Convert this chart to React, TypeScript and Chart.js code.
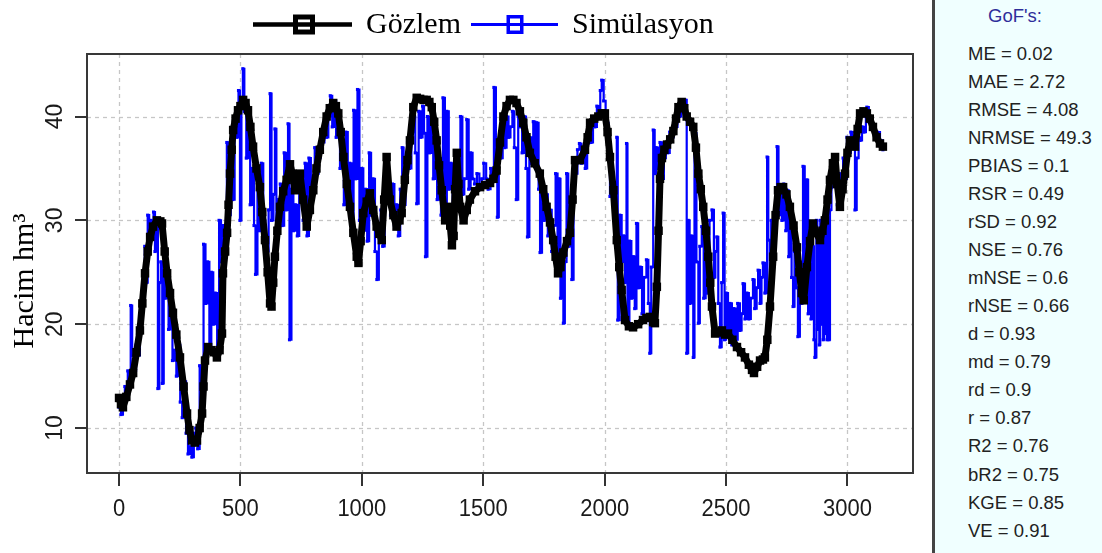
import React, { useEffect, useRef } from "react";
import { Chart, registerables } from "chart.js";
Chart.register(...registerables);

// ---------- data ----------
const OBS_DAYS = [
  0, 8, 16, 30, 45, 58, 72, 86, 96, 107,
  118, 128, 140, 156, 170, 177, 188, 198, 210, 222,
  236, 251, 266, 280, 290, 300, 312, 321, 332, 342,
  348, 354, 367, 380, 392, 403, 414, 424, 428, 437,
  445, 451, 457, 464, 470, 480, 490, 500, 511, 521,
  531, 541, 552, 566, 580, 590, 601, 612, 622, 628,
  635, 642, 652, 663, 676, 690, 704, 714, 725, 735,
  745, 758, 773, 786, 800, 813, 827, 841, 855, 868,
  882, 893, 903, 913, 924, 938, 951, 965, 979, 986,
  995, 1006, 1020, 1033, 1047, 1061, 1072, 1082, 1092, 1102,
  1115, 1130, 1143, 1155, 1164, 1177, 1188, 1198, 1212, 1226,
  1240, 1254, 1267, 1278, 1288, 1298, 1308, 1318, 1329, 1343,
  1356, 1364, 1371, 1378, 1384, 1391, 1398, 1405, 1419, 1432,
  1445, 1466, 1487, 1508, 1528, 1542, 1555, 1569, 1583, 1596,
  1610, 1624, 1637, 1651, 1665, 1678, 1692, 1712, 1733, 1747,
  1761, 1775, 1788, 1798, 1808, 1818, 1830, 1845, 1857, 1868,
  1878, 1898, 1919, 1930, 1940, 1957, 1974, 1988, 2001, 2012,
  2022, 2036, 2050, 2060, 2070, 2084, 2100, 2117, 2138, 2158,
  2172, 2186, 2200, 2207, 2215, 2222, 2228, 2236, 2246, 2257,
  2270, 2283, 2294, 2304, 2317, 2328, 2338, 2352, 2365, 2376,
  2386, 2396, 2406, 2417, 2427, 2435, 2442, 2455, 2470, 2483,
  2496, 2508, 2526, 2545, 2562, 2578, 2594, 2607, 2615, 2628,
  2640, 2652, 2660, 2670, 2681, 2694, 2704, 2714, 2725, 2735,
  2749, 2763, 2778, 2792, 2802, 2812, 2820, 2833, 2846, 2858,
  2872, 2887, 2897, 2907, 2918, 2928, 2940, 2949, 2958, 2969,
  2980, 2990, 3000, 3010, 3020, 3031, 3042, 3052, 3066, 3080,
  3092, 3105, 3120, 3134, 3146,
];
const OBS_VALUES = [
  12.9, 12.3, 12.0, 13.0, 14.2, 15.3, 17.3, 19.4, 22.0, 24.9,
  27.0, 28.4, 29.4, 30.0, 29.9, 29.7, 27.0, 24.9, 23.0, 21.1,
  19.0, 16.8, 14.0, 11.4, 9.8, 8.8, 8.6, 8.8, 10.0, 11.4,
  14.0, 16.5, 17.8, 17.5, 17.3, 16.8, 17.5, 19.1, 24.9, 27.0,
  28.8, 31.5, 34.5, 36.8, 38.7, 39.8, 40.6, 41.0, 41.6, 41.3,
  40.6, 39.0, 37.1, 35.0, 33.2, 30.8, 28.1, 25.0, 22.0, 21.7,
  24.0, 26.5, 29.0, 31.3, 32.8, 33.9, 35.4, 34.5, 32.9, 33.8,
  34.5, 32.0, 29.4, 31.0, 32.9, 35.0, 36.8, 38.5, 40.0, 40.8,
  41.3, 41.0, 40.3, 38.5, 36.1, 33.5, 31.3, 28.8, 26.5, 25.9,
  28.0, 30.7, 31.8, 32.6, 31.0, 29.4, 28.7, 28.1, 32.0, 36.1,
  32.0, 30.5, 29.4, 30.0, 30.7, 33.9, 35.8, 37.7, 40.9, 41.8,
  41.7, 41.6, 41.6, 41.4, 40.9, 39.5, 37.7, 35.3, 32.9, 30.0,
  31.3, 29.5, 27.6, 28.5, 33.0, 36.5, 33.5, 31.3, 30.0, 31.0,
  32.0, 32.8, 33.2, 33.4, 33.6, 34.0, 34.8, 37.5, 40.0, 41.0,
  41.6, 41.6, 41.3, 40.5, 39.4, 38.0, 36.5, 35.5, 34.5, 33.0,
  31.3, 29.8, 28.1, 26.5, 24.9, 25.5, 26.9, 28.0, 28.8, 32.0,
  35.8, 35.8, 36.8, 38.0, 39.4, 39.8, 40.0, 40.3, 40.3, 38.5,
  36.1, 32.9, 28.1, 25.5, 23.3, 20.4, 19.8, 19.7, 20.0, 20.4,
  20.6, 20.7, 20.2, 20.1, 23.6, 29.0, 34.0, 36.0, 36.8, 37.3,
  37.8, 38.6, 39.8, 40.9, 41.4, 40.8, 40.0, 39.5, 39.0, 37.0,
  34.5, 33.0, 31.3, 29.0, 26.5, 24.0, 21.7, 19.1, 19.2, 19.4,
  19.0, 19.1, 18.5, 17.8, 17.3, 16.8, 16.1, 15.6, 15.3, 15.9,
  16.5, 16.6, 16.8, 18.5, 21.7, 26.5, 30.5, 32.9, 33.2, 33.2,
  32.5, 31.3, 29.5, 27.4, 25.0, 23.0, 22.3, 25.5, 28.0, 29.7,
  28.8, 28.1, 29.0, 30.0, 32.0, 33.9, 35.5, 36.1, 33.5, 31.3,
  33.0, 34.5, 36.5, 37.7, 37.5, 37.1, 38.8, 40.3, 40.5, 40.3,
  39.8, 39.0, 38.0, 37.4, 37.1,
];

const SIM_DAYS = [
  0, 8, 16, 24, 30, 36, 42, 48, 54, 62,
  70, 78, 86, 94, 100, 106, 112, 118, 124, 130,
  136, 142, 148, 154, 160, 166, 172, 178, 184, 190,
  196, 204, 212, 220, 228, 236, 244, 252, 260, 268,
  276, 284, 292, 300, 308, 316, 324, 332, 340, 348,
  356, 364, 372, 380, 388, 396, 404, 412, 420, 428,
  436, 444, 452, 460, 468, 476, 484, 492, 498, 504,
  510, 516, 524, 532, 540, 548, 556, 562, 570, 578,
  586, 594, 602, 610, 616, 622, 628, 636, 642, 648,
  656, 664, 672, 680, 688, 696, 702, 710, 718, 726,
  734, 742, 750, 758, 766, 774, 782, 790, 798, 806,
  814, 822, 830, 838, 846, 854, 862, 870, 878, 886,
  894, 902, 910, 918, 926, 934, 942, 950, 958, 966,
  974, 982, 990, 998, 1006, 1014, 1022, 1030, 1038, 1046,
  1054, 1062, 1070, 1078, 1086, 1094, 1102, 1110, 1118, 1126,
  1134, 1142, 1150, 1158, 1166, 1172, 1180, 1188, 1196, 1204,
  1212, 1220, 1226, 1234, 1242, 1250, 1256, 1262, 1270, 1278,
  1286, 1294, 1302, 1310, 1318, 1326, 1334, 1342, 1350, 1358,
  1366, 1374, 1382, 1390, 1398, 1406, 1414, 1422, 1432, 1440,
  1448, 1456, 1464, 1474, 1484, 1494, 1502, 1512, 1520, 1530,
  1538, 1544, 1552, 1558, 1564, 1572, 1580, 1588, 1596, 1604,
  1612, 1620, 1628, 1636, 1644, 1652, 1660, 1668, 1676, 1682,
  1690, 1698, 1706, 1714, 1720, 1728, 1734, 1742, 1750, 1758,
  1766, 1774, 1782, 1790, 1798, 1806, 1812, 1818, 1824, 1830,
  1836, 1843, 1850, 1858, 1865, 1872, 1880, 1888, 1896, 1904,
  1912, 1920, 1928, 1936, 1944, 1952, 1960, 1968, 1976, 1982,
  1988, 1996, 2004, 2010, 2016, 2022, 2030, 2038, 2044, 2050,
  2054, 2062, 2070, 2078, 2084, 2090, 2094, 2102, 2110, 2118,
  2124, 2131, 2138, 2146, 2154, 2162, 2172, 2180, 2186, 2192,
  2200, 2206, 2212, 2220, 2228, 2236, 2244, 2252, 2260, 2268,
  2276, 2284, 2292, 2300, 2308, 2316, 2324, 2330, 2338, 2344,
  2350, 2356, 2365, 2370, 2378, 2386, 2392, 2400, 2408, 2416,
  2424, 2432, 2442, 2450, 2456, 2462, 2468, 2475, 2482, 2488,
  2494, 2500, 2508, 2516, 2524, 2532, 2540, 2548, 2557, 2564,
  2570, 2578, 2586, 2594, 2602, 2611, 2618, 2626, 2632, 2640,
  2646, 2652, 2660, 2669, 2674, 2680, 2686, 2694, 2702, 2710,
  2716, 2722, 2730, 2738, 2746, 2751, 2758, 2764, 2770, 2776,
  2782, 2790, 2796, 2804, 2810, 2817, 2824, 2833, 2838, 2844,
  2850, 2856, 2862, 2866, 2872, 2876, 2880, 2884, 2888, 2892,
  2896, 2900, 2904, 2907, 2912, 2916, 2920, 2924, 2928, 2934,
  2942, 2950, 2958, 2966, 2974, 2982, 2990, 2998, 3006, 3014,
  3022, 3031, 3038, 3046, 3052, 3060, 3068, 3076, 3080, 3088,
  3096, 3105, 3114, 3122, 3134, 3146,
];
const SIM_VALUES = [
  12.0, 11.3, 12.5, 14.0, 13.0, 15.5, 13.8, 21.8, 17.0, 15.5,
  18.0, 17.0, 19.5, 22.0, 24.5, 27.5, 24.0, 30.5, 28.0, 30.0,
  29.0, 30.8, 27.0, 29.5, 13.8, 24.0, 26.0, 14.3, 24.5, 22.5,
  23.0, 19.5, 22.0, 16.5, 17.5, 15.0, 18.0, 12.5, 11.0, 14.5,
  9.5, 7.5, 8.2, 7.2, 9.5, 10.0, 8.0, 16.0, 13.5, 27.7,
  22.0, 26.0, 18.0, 25.0, 20.0, 23.0, 17.0, 30.0, 26.0, 29.5,
  28.0, 37.5, 30.5, 36.0, 32.0, 40.0, 38.0, 42.5, 30.0, 41.0,
  44.6, 40.5, 36.0, 39.5, 31.5, 35.0, 29.5, 24.8, 33.0, 29.0,
  35.5, 30.0, 28.5, 27.0, 31.0, 42.2, 30.0, 32.5, 38.8, 29.0,
  32.0, 33.5, 29.5, 36.5, 31.0, 39.3, 18.5, 33.0, 29.0, 31.5,
  28.5, 34.0, 33.0, 30.0, 35.5, 28.5, 36.0, 32.0, 33.5, 37.0,
  34.5, 36.0, 38.5, 37.5, 39.5, 38.0, 40.0, 42.0, 39.0, 41.5,
  38.0, 39.5, 35.0, 37.5, 31.5, 38.5, 33.0, 35.5, 29.0, 40.6,
  34.0, 42.6, 30.0, 35.0, 29.0, 33.0, 28.0, 36.5, 30.5, 34.0,
  27.0, 24.3, 29.5, 31.0, 27.5, 33.0, 35.5, 33.0, 30.5, 33.5,
  29.5, 31.5, 28.5, 33.0, 37.0, 31.5, 34.5, 37.5, 35.0, 38.5,
  40.0, 36.5, 31.6, 40.5, 38.0, 41.0, 38.4, 26.5, 40.0, 36.5,
  40.5, 34.0, 37.5, 32.0, 36.0, 30.5, 41.8, 31.5, 40.5, 33.0,
  35.5, 30.0, 34.0, 31.0, 33.5, 40.0, 32.5, 34.0, 39.7, 33.0,
  36.5, 34.0, 33.5, 34.5, 33.0, 34.0, 35.5, 34.0, 33.0, 35.0,
  34.0, 42.8, 36.0, 30.3, 37.0, 36.0, 39.5, 37.0, 40.0, 38.0,
  39.0, 40.5, 37.0, 32.0, 40.0, 39.0, 36.5, 40.0, 35.0, 28.4,
  38.0, 35.5, 39.5, 36.0, 39.4, 33.0, 26.9, 33.5, 30.0, 32.5,
  28.5, 31.0, 27.0, 29.5, 34.5, 25.0, 34.0, 22.5, 27.0, 20.1,
  26.0, 34.5, 27.5, 30.0, 24.3, 36.0, 34.5, 36.8, 37.4, 35.5,
  36.5, 35.0, 37.4, 38.5, 37.5, 40.0, 39.0, 41.0, 40.0, 42.5,
  43.5, 41.5, 40.5, 39.4, 36.0, 32.3, 34.0, 30.0, 31.5, 38.0,
  20.4, 30.5, 26.0, 28.5, 24.0, 37.4, 19.7, 28.0, 22.5, 26.5,
  21.5, 29.7, 23.5, 25.5, 21.0, 24.5, 26.2, 22.0, 17.2, 25.5,
  38.7, 34.5, 37.0, 35.0, 37.5, 34.0, 36.0, 37.0, 36.5, 38.5,
  38.0, 39.5, 39.0, 40.5, 40.0, 41.0, 40.5, 41.6, 17.2, 30.0,
  22.0, 28.5, 16.8, 38.4, 26.0, 20.1, 27.5, 29.4, 22.5, 28.0,
  23.0, 30.0, 31.0, 24.5, 27.0, 28.4, 22.0, 17.8, 24.0, 30.7,
  18.5, 23.0, 19.5, 22.0, 18.0, 21.5, 18.5, 22.0, 19.4, 21.0,
  23.9, 20.5, 23.0, 20.5, 22.5, 24.3, 21.5, 23.5, 25.2, 22.0,
  24.5, 25.9, 23.0, 36.1, 28.1, 24.0, 30.0, 27.5, 31.0, 37.1,
  30.5, 32.9, 30.0, 33.5, 29.0, 32.9, 26.5, 30.5, 24.5, 21.7,
  27.0, 23.5, 18.8, 26.0, 22.0, 35.2, 24.5, 33.9, 21.0, 28.5,
  20.5, 27.5, 18.5, 16.8, 30.0, 19.5, 29.0, 18.0, 30.0, 20.0,
  28.5, 18.5, 29.5, 19.1, 30.0, 18.5, 29.5, 18.5, 31.0, 33.2,
  35.5, 34.0, 31.5, 34.5, 33.0, 36.0, 34.0, 38.0, 36.5, 38.5,
  37.0, 31.0, 36.0, 38.0, 37.7, 39.0, 38.5, 40.0, 40.9, 39.5,
  39.0, 38.7, 38.0, 38.5, 37.7, 36.8,
];

const X_TICKS = [0, 500, 1000, 1500, 2000, 2500, 3000];
const Y_TICKS = [10, 20, 30, 40];
const X_RANGE = [-132, 3270];
const Y_RANGE = [5.67, 46.02];
const SERIES_LABELS = ["Gözlem", "Simülasyon"];
const Y_TITLE = "Hacim hm³";
const GOF_TITLE = "GoF's:";
const GOF_NAMES = ["ME", "MAE", "RMSE", "NRMSE", "PBIAS", "RSR", "rSD", "NSE", "mNSE", "rNSE", "d", "md", "rd", "r", "R2", "bR2", "KGE", "VE"];
const GOF_VALUES = ["0.02", "2.72", "4.08", "49.3", "0.1", "0.49", "0.92", "0.76", "0.6", "0.66", "0.93", "0.79", "0.9", "0.87", "0.76", "0.75", "0.85", "0.91"];

const SERIF = '"Liberation Serif", "Times New Roman", serif';
const SANS = '"Liberation Sans", Arial, sans-serif';

function drawLegendItem(ctx: CanvasRenderingContext2D, x1: number, x2: number, cy: number, color: string, lw: number, sqLw: number, sqCx: number, sqW: number, sqH: number, label: string, tx: number) {
  ctx.save();
  ctx.strokeStyle = color;
  ctx.lineWidth = lw;
  ctx.beginPath();
  ctx.moveTo(x1, cy);
  ctx.lineTo(x2, cy);
  ctx.stroke();
  const w = sqW - sqLw;
  const h = sqH - sqLw;
  ctx.fillStyle = "#fff";
  ctx.fillRect(sqCx - w / 2, cy - h / 2, w, h);
  ctx.lineWidth = sqLw;
  ctx.strokeRect(sqCx - w / 2, cy - h / 2, w, h);
  ctx.lineWidth = lw;
  ctx.beginPath();
  ctx.moveTo(sqCx - w / 2, cy);
  ctx.lineTo(sqCx + w / 2, cy);
  ctx.stroke();
  ctx.fillStyle = "#000";
  ctx.font = `30px ${SERIF}`;
  ctx.textAlign = "left";
  ctx.textBaseline = "alphabetic";
  ctx.fillText(label, tx, 33);
  ctx.restore();
}

const decorPlugin = {
  id: "decor",
  beforeDatasetsDraw(chart: any) {
    const { ctx, chartArea: a, scales } = chart;
    const xs = scales.x;
    const ys = scales.y;
    ctx.save();
    ctx.strokeStyle = "#c6c6c6";
    ctx.lineWidth = 1.3;
    ctx.setLineDash([4, 4]);
    X_TICKS.forEach((v) => {
      const px = Math.round(xs.getPixelForValue(v)) + 0.5;
      ctx.beginPath();
      ctx.moveTo(px, a.top);
      ctx.lineTo(px, a.bottom);
      ctx.stroke();
    });
    Y_TICKS.forEach((v) => {
      const py = Math.round(ys.getPixelForValue(v)) + 0.5;
      ctx.beginPath();
      ctx.moveTo(a.left, py);
      ctx.lineTo(a.right, py);
      ctx.stroke();
    });
    ctx.restore();
  },
  afterDraw(chart: any) {
    const { ctx, chartArea: a, scales } = chart;
    const xs = scales.x;
    const ys = scales.y;
    ctx.save();
    ctx.strokeStyle = "#383838";
    ctx.lineWidth = 2;
    ctx.strokeRect(a.left, a.top, a.right - a.left, a.bottom - a.top);
    ctx.strokeStyle = "#333";
    ctx.lineWidth = 2;
    X_TICKS.forEach((v) => {
      const px = Math.round(xs.getPixelForValue(v));
      ctx.beginPath();
      ctx.moveTo(px, a.bottom);
      ctx.lineTo(px, a.bottom + 13);
      ctx.stroke();
    });
    Y_TICKS.forEach((v) => {
      const py = Math.round(ys.getPixelForValue(v));
      ctx.beginPath();
      ctx.moveTo(a.left, py);
      ctx.lineTo(a.left - 12, py);
      ctx.stroke();
    });
    ctx.fillStyle = "#1a1a1a";
    ctx.font = `22px ${SANS}`;
    ctx.textAlign = "center";
    ctx.textBaseline = "alphabetic";
    X_TICKS.forEach((v) => {
      const px = xs.getPixelForValue(v);
      ctx.save();
      ctx.translate(px, 516);
      ctx.scale(1, 1.1);
      ctx.fillText(String(v), 0, 0);
      ctx.restore();
    });
    ctx.font = `23px ${SANS}`;
    Y_TICKS.forEach((v) => {
      const py = ys.getPixelForValue(v);
      ctx.save();
      ctx.translate(62, py);
      ctx.rotate(-Math.PI / 2);
      ctx.fillText(String(v), 0, 0);
      ctx.restore();
    });
    ctx.fillStyle = "#000";
    ctx.font = `30px ${SERIF}`;
    ctx.save();
    ctx.translate(33, 281);
    ctx.rotate(-Math.PI / 2);
    ctx.fillText(Y_TITLE, 0, 0);
    ctx.restore();
    ctx.restore();
    drawLegendItem(ctx, 253, 352, 24.5, "#000", 4.5, 5, 304, 22, 20, SERIES_LABELS[0], 366);
    drawLegendItem(ctx, 471, 558, 24.5, "#0000ff", 3, 3.5, 515, 17, 19, SERIES_LABELS[1], 572);
  },
};

export default function App() {
  const ref = useRef<HTMLCanvasElement | null>(null);

  useEffect(() => {
    if (!ref.current) return;
    const obs = OBS_DAYS.map((d, i) => ({ x: d, y: OBS_VALUES[i] }));
    const sim = SIM_DAYS.map((d, i) => ({ x: d, y: SIM_VALUES[i] }));
    const chart = new Chart(ref.current, {
      type: "line",
      data: {
        datasets: [
          {
            label: SERIES_LABELS[0],
            data: obs,
            borderColor: "#000",
            backgroundColor: "#000",
            borderWidth: 7,
            borderJoinStyle: "round",
            pointStyle: "rect",
            pointRadius: 6,
            pointBorderWidth: 0,
            tension: 0,
            order: 0,
          },
          {
            label: SERIES_LABELS[1],
            data: sim,
            borderColor: "#0000ff",
            backgroundColor: "#0000ff",
            borderWidth: 2.2,
            stepped: true,
            pointStyle: "rect",
            pointRadius: 2.2,
            pointBorderWidth: 0,
            order: 1,
          },
        ],
      },
      options: {
        responsive: false,
        animation: false,
        devicePixelRatio: 1,
        events: [],
        layout: { padding: { top: 54, right: 19, left: 0, bottom: 0 } },
        plugins: { legend: { display: false }, tooltip: { enabled: false }, title: { display: false } },
        scales: {
          x: {
            type: "linear",
            min: X_RANGE[0],
            max: X_RANGE[1],
            afterBuildTicks: (s: any) => {
              s.ticks = X_TICKS.map((v) => ({ value: v }));
            },
            afterFit: (s: any) => {
              s.height = 80;
            },
            grid: { display: false },
            border: { display: false },
            ticks: { display: false },
          },
          y: {
            type: "linear",
            min: Y_RANGE[0],
            max: Y_RANGE[1],
            afterBuildTicks: (s: any) => {
              s.ticks = Y_TICKS.map((v) => ({ value: v }));
            },
            afterFit: (s: any) => {
              s.width = 87;
            },
            grid: { display: false },
            border: { display: false },
            ticks: { display: false },
          },
        },
      },
      plugins: [decorPlugin],
    } as any);
    return () => chart.destroy();
  }, []);

  const LINE_STEP = 28.06;
  return (
    <div style={{ position: "fixed", left: 0, top: 0, width: 1102, height: 553, overflow: "hidden", background: "#fff" }}>
      <canvas ref={ref} width={932} height={553} style={{ position: "absolute", left: 0, top: 0, width: 932, height: 553 }} />
      <div
        style={{
          position: "absolute",
          left: 932,
          top: 0,
          width: 180,
          height: 553,
          boxSizing: "border-box",
          borderLeft: "3px solid #444",
          background: "#f0ffff",
        }}
      />
      <div
        style={{
          position: "absolute",
          left: 988,
          top: 22 - 17.4,
          font: `18.5px ${SANS}`,
          lineHeight: "22px",
          color: "#2e2e9a",
          whiteSpace: "nowrap",
        }}
      >
        {GOF_TITLE}
      </div>
      {GOF_NAMES.map((n, i) => (
        <div
          key={n}
          style={{
            position: "absolute",
            left: 968,
            top: 60 + i * LINE_STEP - 17.4,
            font: `18.5px ${SANS}`,
            lineHeight: "22px",
            color: "#222",
            whiteSpace: "nowrap",
          }}
        >
          {`${n} = ${GOF_VALUES[i]}`}
        </div>
      ))}
    </div>
  );
}
